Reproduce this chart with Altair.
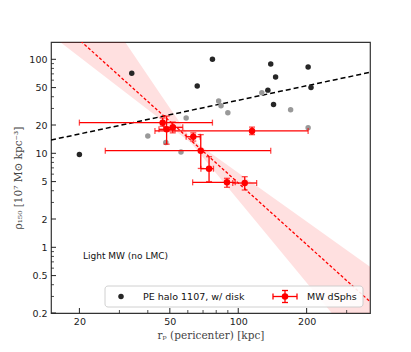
import altair as alt
import pandas as pd

# ---- data ----
black_x = [20, 34, 66, 77, 139, 146, 135, 143, 203, 209]
black_y = [9.7, 71, 52, 100, 89, 65, 47, 33, 83, 50]
gray_x = [40, 48, 59, 56, 82, 84, 90, 127, 170, 203]
gray_y = [15.3, 13, 23.7, 10.3, 36, 32, 27, 44, 29, 18.7]

red_x = [46.5, 48.4, 51.5, 115, 63.4, 68.4, 74.4, 89.2, 106.8]
red_y = [21.2, 18.0, 18.9, 17.3, 15.0, 10.66, 6.86, 4.91, 4.83]
red_xlo = [20, 44.8, 47, 43, 59, 26, 68.5, 63, 94.6]
red_xhi = [77, 52.7, 57, 203, 68, 139, 77.8, 97, 120.5]
red_ylo = [19.4, 12.5, 16.5, 15.8, 13.5, 6.9, 5.0, 4.35, 4.07]
red_yhi = [23.8, 24.9, 21.5, 19.0, 16.5, 15.8, 9.2, 5.42, 5.64]

fit_x = [15, 380]
fit_y = [301, 0.2645]
trend_x = [15, 380]
trend_y = [13.85, 72.7]
band_x = [15, 30, 45, 62, 100, 200, 380]
band_lo = [181.3, 49.9, 23.4, 12.9, 3.18, 0.419, 0.0642]
band_hi = [2200, 187.7, 44.2, 14.2, 6.22, 1.88, 0.622]

x_major = [20, 50, 100, 200]
x_minor = [30, 40, 60, 70, 80, 90, 300]
y_major = [0.2, 0.5, 1, 2, 5, 10, 20, 50, 100]
y_minor = [0.3, 0.4, 0.6, 0.7, 0.8, 0.9, 3, 4, 6, 7, 8, 9, 30, 40, 60, 70, 80, 90]

W, H = 319, 271

x_scale = alt.Scale(type="log", domain=[15, 380], nice=False)
y_scale = alt.Scale(type="log", domain=[0.2, 152.8], nice=False)
x_axis = alt.Axis(values=x_major, format="~g", title="rₚ (pericenter) [kpc]",
                  labelPadding=3, titlePadding=5)
y_axis = alt.Axis(values=y_major, format="~g", title="ρ₁₅₀ [10⁷ M⊙ kpc⁻³]",
                  labelPadding=4, titlePadding=5)


def X(f):
    return alt.X(f, type="quantitative", scale=x_scale, axis=x_axis)


def Y(f):
    return alt.Y(f, type="quantitative", scale=y_scale, axis=y_axis)


band_df = pd.DataFrame({"x": band_x, "lo": band_lo, "hi": band_hi})
fit_df = pd.DataFrame({"x": fit_x, "y": fit_y})
trend_df = pd.DataFrame({"x": trend_x, "y": trend_y})
black_df = pd.DataFrame({"x": black_x, "y": black_y})
gray_df = pd.DataFrame({"x": gray_x, "y": gray_y})
red_df = pd.DataFrame({"x": red_x, "y": red_y, "xlo": red_xlo, "xhi": red_xhi,
                       "ylo": red_ylo, "yhi": red_yhi})

band = alt.Chart(band_df).mark_area(color="#ff0000", opacity=0.12, clip=True).encode(
    x=X("x"), y=Y("lo"), y2="hi")
fit = alt.Chart(fit_df).mark_line(color="#ff0000", strokeDash=[3, 2], strokeWidth=1.3,
                                  clip=True).encode(x=X("x"), y=Y("y"))
trend = alt.Chart(trend_df).mark_line(color="black", strokeDash=[5, 3], strokeWidth=1.5,
                                      clip=True).encode(x=X("x"), y=Y("y"))
blk = alt.Chart(black_df).mark_circle(color="#262626", opacity=1, size=30).encode(
    x=X("x"), y=Y("y"))
gry = alt.Chart(gray_df).mark_circle(color="#999999", opacity=1, size=30).encode(
    x=X("x"), y=Y("y"))

red_base = alt.Chart(red_df)
hbar = red_base.mark_rule(color="#ff0000", strokeWidth=1.3).encode(
    x=X("xlo"), x2="xhi", y=Y("y"))
vbar = red_base.mark_rule(color="#ff0000", strokeWidth=1.3).encode(
    x=X("x"), y=Y("ylo"), y2="yhi")
cap_l = red_base.mark_tick(color="#ff0000", orient="vertical", size=6, thickness=1.3).encode(
    x=X("xlo"), y=Y("y"))
cap_r = red_base.mark_tick(color="#ff0000", orient="vertical", size=6, thickness=1.3).encode(
    x=X("xhi"), y=Y("y"))
cap_b = red_base.mark_tick(color="#ff0000", orient="horizontal", size=6, thickness=1.3).encode(
    x=X("x"), y=Y("ylo"))
cap_t = red_base.mark_tick(color="#ff0000", orient="horizontal", size=6, thickness=1.3).encode(
    x=X("x"), y=Y("yhi"))
red_pts = red_base.mark_circle(color="#ff0000", opacity=1, size=42).encode(
    x=X("x"), y=Y("y"))

# inward ticks
xmaj = alt.Chart(pd.DataFrame({"v": x_major})).mark_rule(color="#222", strokeWidth=1).encode(
    x=X("v"), y=alt.value(H), y2=alt.value(H - 5))
xmin = alt.Chart(pd.DataFrame({"v": x_minor})).mark_rule(color="#222", strokeWidth=0.8).encode(
    x=X("v"), y=alt.value(H), y2=alt.value(H - 3))
ymaj = alt.Chart(pd.DataFrame({"v": y_major})).mark_rule(color="#222", strokeWidth=1).encode(
    y=Y("v"), x=alt.value(0), x2=alt.value(5))
ymin = alt.Chart(pd.DataFrame({"v": y_minor})).mark_rule(color="#222", strokeWidth=0.8).encode(
    y=Y("v"), x=alt.value(0), x2=alt.value(3))

# legend and annotation
one = pd.DataFrame({"k": [0]})
leg_box = alt.Chart(one).mark_rect(fill="white", stroke="#cccccc", strokeWidth=1,
                                   cornerRadius=3, opacity=0.9).encode(
    x=alt.value(54), x2=alt.value(312), y=alt.value(244), y2=alt.value(265))
leg_dot = alt.Chart(one).mark_circle(color="#262626", opacity=1, size=30).encode(
    x=alt.value(70), y=alt.value(254.5))
leg_t1 = alt.Chart(one).mark_text(align="left", baseline="middle", fontSize=9.5,
                                  font="DejaVu Sans", color="#111").encode(
    x=alt.value(92), y=alt.value(254.5), text=alt.value("PE halo 1107, w/ disk"))
leg_h = alt.Chart(one).mark_rule(color="#ff0000", strokeWidth=1.3).encode(
    x=alt.value(222), x2=alt.value(246), y=alt.value(254.5))
leg_v = alt.Chart(one).mark_rule(color="#ff0000", strokeWidth=1.3).encode(
    x=alt.value(234), y=alt.value(248.5), y2=alt.value(260.5))
leg_c1 = alt.Chart(one).mark_rule(color="#ff0000", strokeWidth=1.3).encode(
    x=alt.value(231), x2=alt.value(237), y=alt.value(248.5))
leg_c2 = alt.Chart(one).mark_rule(color="#ff0000", strokeWidth=1.3).encode(
    x=alt.value(231), x2=alt.value(237), y=alt.value(260.5))
leg_c3 = alt.Chart(one).mark_rule(color="#ff0000", strokeWidth=1.3).encode(
    x=alt.value(222), y=alt.value(251.5), y2=alt.value(257.5))
leg_c4 = alt.Chart(one).mark_rule(color="#ff0000", strokeWidth=1.3).encode(
    x=alt.value(246), y=alt.value(251.5), y2=alt.value(257.5))
leg_rd = alt.Chart(one).mark_circle(color="#ff0000", opacity=1, size=42).encode(
    x=alt.value(234), y=alt.value(254.5))
leg_t2 = alt.Chart(one).mark_text(align="left", baseline="middle", fontSize=9.5,
                                  font="DejaVu Sans", color="#111").encode(
    x=alt.value(256), y=alt.value(254.5), text=alt.value("MW dSphs"))
note = alt.Chart(one).mark_text(align="left", baseline="middle", fontSize=9,
                                font="DejaVu Sans", color="#111").encode(
    x=alt.value(32), y=alt.value(214), text=alt.value("Light MW (no LMC)"))

chart = alt.layer(
    band, trend, fit, blk, gry,
    hbar, vbar, cap_l, cap_r, cap_b, cap_t, red_pts,
    xmaj, xmin, ymaj, ymin,
    leg_box, leg_dot, leg_t1, leg_h, leg_v, leg_c1, leg_c2, leg_c3, leg_c4, leg_rd, leg_t2,
    note,
).properties(
    width=W, height=H,
    padding={"left": 43, "top": 34, "right": 20, "bottom": 31},
    autosize=alt.AutoSizeParams(type="none"),
).configure_view(
    stroke="#333333", strokeWidth=1.2
).configure_axis(
    grid=False, ticks=False, domain=False,
    labelFont="DejaVu Sans", labelFontSize=9.5, labelColor="#222",
    titleFont="DejaVu Serif", titleFontSize=10.5, titleFontWeight="normal",
    titleColor="#444",
)

chart.save("out.html", embed_options={"renderer": "svg", "actions": False})
